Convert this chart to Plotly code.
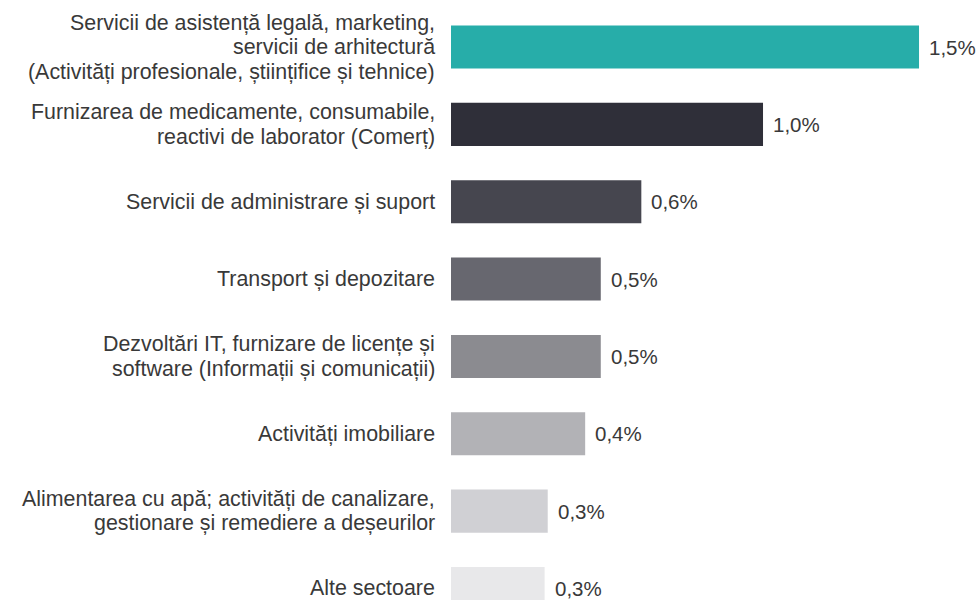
import plotly.graph_objects as go

# Sector categories (line breaks kept as in the labels)
categories = [
    "Servicii de asistență legală, marketing,<br>servicii de arhitectură<br>(Activități profesionale, științifice și tehnice)",
    "Furnizarea de medicamente, consumabile,<br>reactivi de laborator (Comerț)",
    "Servicii de administrare și suport",
    "Transport și depozitare",
    "Dezvoltări IT, furnizare de licențe și<br>software (Informații și comunicații)",
    "Activități imobiliare",
    "Alimentarea cu apă; activități de canalizare,<br>gestionare și remediere a deșeurilor",
    "Alte sectoare",
]
# Share values, in percent
values = [1.50, 1.00, 0.61, 0.48, 0.48, 0.43, 0.31, 0.30]
colors = ["#27ADA9", "#2F2F39", "#46464F", "#67676F", "#8B8B90", "#B2B2B6", "#D0D0D4", "#E8E8EA"]

positions = list(range(len(categories)))
TEXT = "#393939"
FONT = "Liberation Sans, Arial, sans-serif"
LINE_H = 24.5

fig = go.Figure(
    go.Bar(
        x=values,
        y=positions,
        orientation="h",
        marker=dict(color=colors, line=dict(width=0)),
        width=0.556,
        hoverinfo="skip",
    )
)

annotations = []
for pos, label, val in zip(positions, categories, values):
    lines = label.split("<br>")
    n = len(lines)
    for j, line in enumerate(lines):
        annotations.append(dict(
            x=0, y=pos, xref="x", yref="y",
            text=line, showarrow=False,
            xanchor="right", yanchor="middle",
            xshift=-14, yshift=((n - 1) / 2 - j) * LINE_H,
            font=dict(family=FONT, size=21.4, color=TEXT),
        ))
    annotations.append(dict(
        x=val, y=pos, xref="x", yref="y",
        text=f"{val:.1f}%".replace(".", ","), showarrow=False,
        xanchor="left", yanchor="middle", xshift=8,
        font=dict(family=FONT, size=20.5, color=TEXT),
    ))

fig.update_layout(
    width=978, height=600,
    margin=dict(l=451, r=0, t=0, b=0),
    paper_bgcolor="white", plot_bgcolor="white",
    showlegend=False,
    annotations=annotations,
    xaxis=dict(range=[0, 1.689], visible=False, fixedrange=True),
    yaxis=dict(range=[7.149, -0.608], visible=False, fixedrange=True),
)

fig.write_html("out.html", config={"displayModeBar": False})
